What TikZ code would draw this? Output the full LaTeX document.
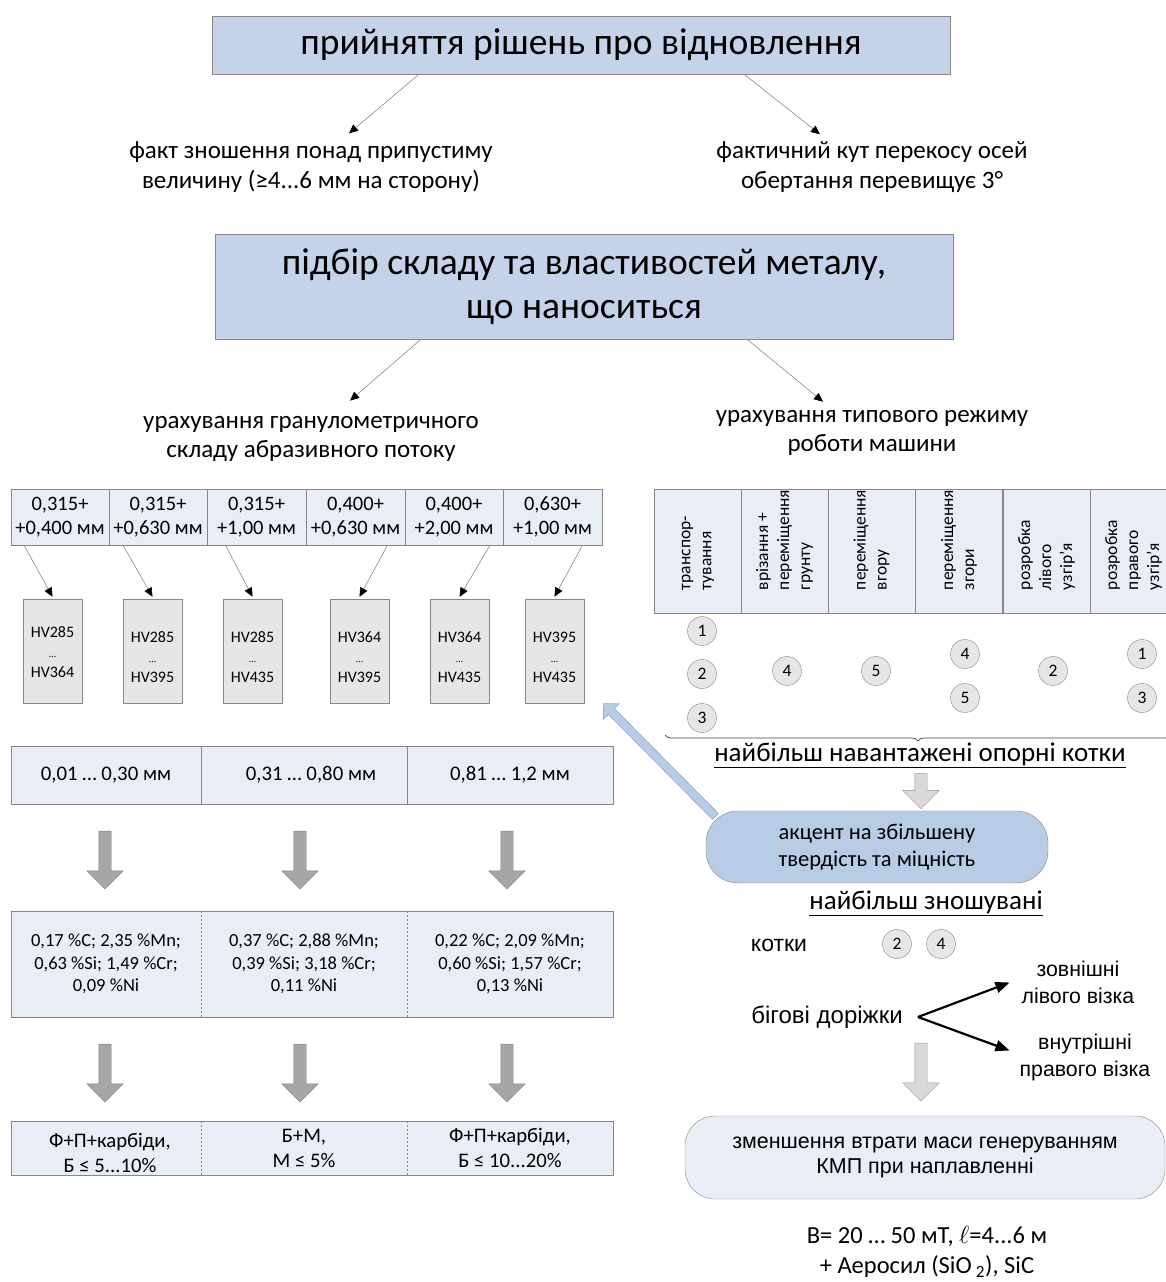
\documentclass[tikz,border=0pt]{standalone}
\usepackage{fontspec}
\setmainfont{Carlito}
\newfontfamily\arialfont{Liberation Sans}
\usetikzlibrary{arrows.meta, shapes.arrows, decorations.pathreplacing}

\definecolor{hdrblue}{RGB}{197,211,234}
\definecolor{cellblue}{RGB}{233,237,246}
\definecolor{accblue}{RGB}{185,204,229}
\definecolor{bluebd}{RGB}{120,150,200}
\definecolor{boxgray}{RGB}{230,230,230}
\definecolor{linegray}{RGB}{135,135,135}
\definecolor{arrdark}{RGB}{166,166,166}
\definecolor{arrdarkbd}{RGB}{128,128,128}
\definecolor{arrlight}{RGB}{217,217,217}
\definecolor{arrlightbd}{RGB}{150,150,150}

\newcommand{\setfs}[2]{\fontsize{#1}{#2}\selectfont}

\begin{document}
\begin{tikzpicture}[x=1pt, y=-1pt,
    hdr/.style={draw=linegray, fill=hdrblue, align=center, inner sep=0pt, minimum width=738pt},
    plain/.style={align=center, inner sep=0pt},
    cell/.style={draw=linegray, fill=cellblue, align=center, inner sep=0pt},
    frac/.style={cell, minimum width=98.5pt, minimum height=56pt, font=\setfs{20.5}{24}},
    hvbox/.style={draw=linegray, fill=boxgray, minimum width=59pt, minimum height=104pt},
    hvtext/.style={plain, font=\setfs{16}{20}},
    rcell/.style={cell, minimum width=87pt, minimum height=124pt},
    vtext/.style={rotate=90, anchor=west, align=left, inner sep=0pt, font=\setfs{17.5}{21}},
    roll/.style={circle, draw=linegray, fill=boxgray, minimum size=29pt, inner sep=0pt, font=\setfs{17.5}{20}},
    thinarr/.style={draw=linegray, line width=0.6pt, -{Triangle[length=9pt,width=8pt,color=black]}},
    boldarr/.style={line width=2.2pt, -{Triangle[length=14pt,width=11pt]}},
    blockdark/.style={single arrow, rotate=-90, draw=arrdarkbd, fill=arrdark, inner sep=6pt,
        single arrow head extend=12pt, minimum height=58pt},
    blocklight/.style={blockdark, draw=arrlightbd, fill=arrlight},
    bluearr/.style={single arrow, draw=bluebd, fill=accblue, inner sep=4pt,
        single arrow head extend=7pt, minimum height=159pt},
    dividers/.style={draw=linegray, dash pattern=on 2pt off 2pt}
]
\useasboundingbox (0,0) rectangle (1166,1282);

% decision level
\node[hdr, minimum height=58pt, font=\setfs{37.5}{44}] (decide) at (581,45) {прийняття рішень про відновлення};
\node[plain, font=\setfs{25}{30}] (wear) at (311,167) {факт зношення понад припустиму\\величину (≥4...6 мм на сторону)};
\node[plain, font=\setfs{25}{30}] (skew) at (872,167) {фактичний кут перекосу осей\\обертання перевищує 3°};
\draw[thinarr] ([xshift=-162pt]decide.south) -- ([xshift=38pt,yshift=8pt]wear.north);
\draw[thinarr] ([xshift=163pt]decide.south) -- ([xshift=-52pt,yshift=7pt]skew.north);

% metal selection
\node[hdr, minimum height=105pt, font=\setfs{37.5}{44}] (metal) at (584,286.5) {підбір складу та властивостей металу,\\що наноситься};
\node[plain, font=\setfs{25}{29}] (gran) at (311,438.5) {урахування гранулометричного\\складу абразивного потоку};
\node[plain, font=\setfs{25}{29}] (mode) at (872,432.5) {урахування типового режиму\\роботи машини};
\draw[thinarr] ([xshift=-163pt]metal.south) -- ([xshift=39pt,yshift=15pt]gran.north);
\draw[thinarr] ([xshift=163pt]metal.south) -- ([xshift=-49pt,yshift=8pt]mode.north);

% abrasive fractions
\node[frac] (g1) at (60,517) {0,315+\\+0,400 мм};
\node[frac] (g2) at (158,517) {0,315+\\+0,630 мм};
\node[frac] (g3) at (256.5,517) {0,315+\\+1,00 мм};
\node[frac] (g4) at (355.5,517) {0,400+\\+0,630 мм};
\node[frac] (g5) at (454,517) {0,400+\\+2,00 мм};
\node[frac] (g6) at (552.5,517) {0,630+\\+1,00 мм};

\node[hvbox] (hv1) at (52.5,651) {};
\node[hvbox] (hv2) at (152.5,651) {};
\node[hvbox] (hv3) at (252.5,651) {};
\node[hvbox] (hv4) at (359.5,651) {};
\node[hvbox] (hv5) at (459.5,651) {};
\node[hvbox] (hv6) at (554.5,651) {};
\node[hvtext] (hv1t) at ([yshift=-1pt]hv1.center) {HV285\\{\setfs{10}{20}…}\\HV364};
\node[hvtext] (hv2t) at ([yshift=-6pt]hv2.center) {HV285\\{\setfs{10}{20}…}\\HV395};
\node[hvtext] (hv3t) at ([yshift=-6pt]hv3.center) {HV285\\{\setfs{10}{20}…}\\HV435};
\node[hvtext] (hv4t) at ([yshift=-6pt]hv4.center) {HV364\\{\setfs{10}{20}…}\\HV395};
\node[hvtext] (hv5t) at ([yshift=-6pt]hv5.center) {HV364\\{\setfs{10}{20}…}\\HV435};
\node[hvtext] (hv6t) at ([yshift=-6pt]hv6.center) {HV395\\{\setfs{10}{20}…}\\HV435};

\draw[thinarr] ([xshift=-36pt]g1.south) -- ([yshift=2pt]hv1.north);
\draw[thinarr] ([xshift=-35pt]g2.south) -- ([yshift=2pt]hv2.north);
\draw[thinarr] ([xshift=-31pt]g3.south) -- ([yshift=2pt]hv3.north);
\draw[thinarr] ([xshift=32pt]g4.south) -- ([yshift=2pt]hv4.north);
\draw[thinarr] ([xshift=36pt]g5.south) -- ([yshift=2pt]hv5.north);
\draw[thinarr] ([xshift=30pt]g6.south) -- ([yshift=2pt]hv6.north);

% wear thickness
\node[cell, minimum width=190pt, minimum height=58pt, font=\setfs{20.8}{24}] (m1) at (106,775) {0,01 … 0,30 мм};
\node[cell, minimum width=206pt, minimum height=58pt, font=\setfs{20.8}{24}] (m2) at (304,775) {\hspace*{14pt}0,31 … 0,80 мм};
\node[cell, minimum width=206pt, minimum height=58pt, font=\setfs{20.8}{24}] (m3) at (510,775) {0,81 … 1,2 мм};

\node[blockdark] (d1) at (105,857) {};
\node[blockdark] (d2) at (300,857) {};
\node[blockdark] (d3) at (507,857) {};

% compositions
\node[plain, fill=cellblue, minimum width=190pt, minimum height=106pt, font=\setfs{18.5}{22.5}] (c1) at (106,964) {0,17 \%C; 2,35 \%Mn;\\0,63 \%Si; 1,49 \%Cr;\\0,09 \%Ni};
\node[plain, fill=cellblue, minimum width=206pt, minimum height=106pt, font=\setfs{18.5}{22.5}] (c2) at (304,964) {0,37 \%C; 2,88 \%Mn;\\0,39 \%Si; 3,18 \%Cr;\\0,11 \%Ni};
\node[plain, fill=cellblue, minimum width=206pt, minimum height=106pt, font=\setfs{18.5}{22.5}] (c3) at (510,964) {0,22 \%C; 2,09 \%Mn;\\0,60 \%Si; 1,57 \%Cr;\\0,13 \%Ni};
\draw[linegray] (c1.north west) rectangle (c3.south east);
\draw[dividers] (c1.north east) -- (c1.south east);
\draw[dividers] (c2.north east) -- (c2.south east);

\node[blockdark] (e1) at (105,1070) {};
\node[blockdark] (e2) at (300,1070) {};
\node[blockdark] (e3) at (507,1070) {};

% structures
\node[plain, fill=cellblue, minimum width=190pt, minimum height=54pt] (s1) at (106,1148) {};
\node[plain, fill=cellblue, minimum width=206pt, minimum height=54pt, font=\setfs{20.7}{25}] (s2) at (304,1148) {Б+М,\\М ≤ 5\%};
\node[plain, fill=cellblue, minimum width=206pt, minimum height=54pt, font=\setfs{20.7}{25}] (s3) at (510,1148) {Ф+П+карбіди,\\Б ≤ 10...20\%};
\node[plain, font=\setfs{20.7}{25}] (s1t) at ([xshift=4pt,yshift=-5pt]s1.center) {Ф+П+карбіди,\\Б ≤ 5...10\%};
\draw[linegray] (s1.north west) rectangle (s3.south east);
\draw[dividers] (s1.north east) -- (s1.south east);
\draw[dividers] (s2.north east) -- (s2.south east);

% operating modes
\node[rcell] (r1) at (698,551) {};
\node[rcell] (r2) at (784.5,551) {};
\node[rcell] (r3) at (871.5,551) {};
\node[rcell] (r4) at (959,551) {};
\node[rcell] (r5) at (1046.5,551) {};
\node[rcell] (r6) at (1133.5,551) {};
\node[vtext] (t1) at ([yshift=23pt]r1.south) {транспор-\\тування};
\node[vtext] (t2) at ([yshift=23pt]r2.south) {врізання +\\переміщення\\грунту};
\node[vtext] (t3) at ([yshift=23pt]r3.south) {переміщення\\вгору};
\node[vtext] (t4) at ([yshift=23pt]r4.south) {переміщення\\згори};
\node[vtext] (t5) at ([yshift=23pt]r5.south) {розробка\\лівого\\узгір'я};
\node[vtext] (t6) at ([yshift=23pt]r6.south) {розробка\\правого\\узгір'я};

\node[roll] (k1a) at (702,631) {1};
\node[roll] (k1b) at (702,674) {2};
\node[roll] (k1c) at (702,718) {3};
\node[roll] (k2a) at (787,671) {4};
\node[roll] (k3a) at (876,671) {5};
\node[roll] (k4a) at (965,654) {4};
\node[roll] (k4b) at (965,698) {5};
\node[roll] (k5a) at (1053,671) {2};
\node[roll] (k6a) at (1142,654) {1};
\node[roll] (k6b) at (1142,698) {3};

\coordinate (bracel) at (665,735);
\coordinate (bracer) at (1171,735);
\draw[black!75, line width=0.7pt, decorate, decoration={brace, mirror, amplitude=6pt}] (bracel) -- (bracer);

\node[plain, font=\setfs{27}{30}] (loaded) at (920,755) {\underline{найбільш навантажені опорні котки}};
\node[blocklight, minimum height=35pt] (l1) at (921,788) {};

\node[cell, fill=accblue, rounded corners=32pt, minimum width=342pt, minimum height=72pt, font=\setfs{22.5}{27}] (acc) at (877,847) {акцент на збільшену\\твердість та міцність};
\coordinate (acctip) at (605,705);
\path ([xshift=11pt,yshift=-7pt]acc.north west) -- node[bluearr, sloped, allow upside down] (accarr) {} (acctip);

\node[plain, font=\setfs{27}{30}] (worn) at (926,903) {\underline{найбільш зношувані}};
\node[plain, font=\arialfont\setfs{23}{25}] (rolls) at (779,945) {котки};
\node[roll] (w2) at (897,944) {2};
\node[roll] (w4) at (941,944) {4};

\node[plain, font=\arialfont\setfs{24}{27}] (tracks) at (827,1017) {бігові доріжки};
\coordinate (fork) at ([xshift=15pt]tracks.east);
\node[plain, font=\arialfont\setfs{21.3}{27}] (outer) at (1078,982.5) {зовнішні\\лівого візка};
\node[plain, font=\arialfont\setfs{21.3}{27}] (inner) at (1085,1057.5) {внутрішні\\правого візка};
\draw[boldarr] (fork) -- ([xshift=-12pt]outer.west);
\draw[boldarr] (fork) -- ([xshift=-10pt,yshift=7pt]inner.west);

\node[blocklight] (l2) at (921,1069) {};

\node[cell, rounded corners=30pt, minimum width=480pt, minimum height=83pt, font=\arialfont\setfs{21.5}{25}] (kmp) at (925,1157.5) {зменшення втрати маси генеруванням\\КМП при наплавленні};
\node[plain, font=\setfs{24.5}{30}] (params) at (927,1252) {B= 20 … 50 мТ, $\ell$=4...6 м\\+ Аеросил (SiO\,\textsubscript{2}), SiC};
\end{tikzpicture}
\end{document}
